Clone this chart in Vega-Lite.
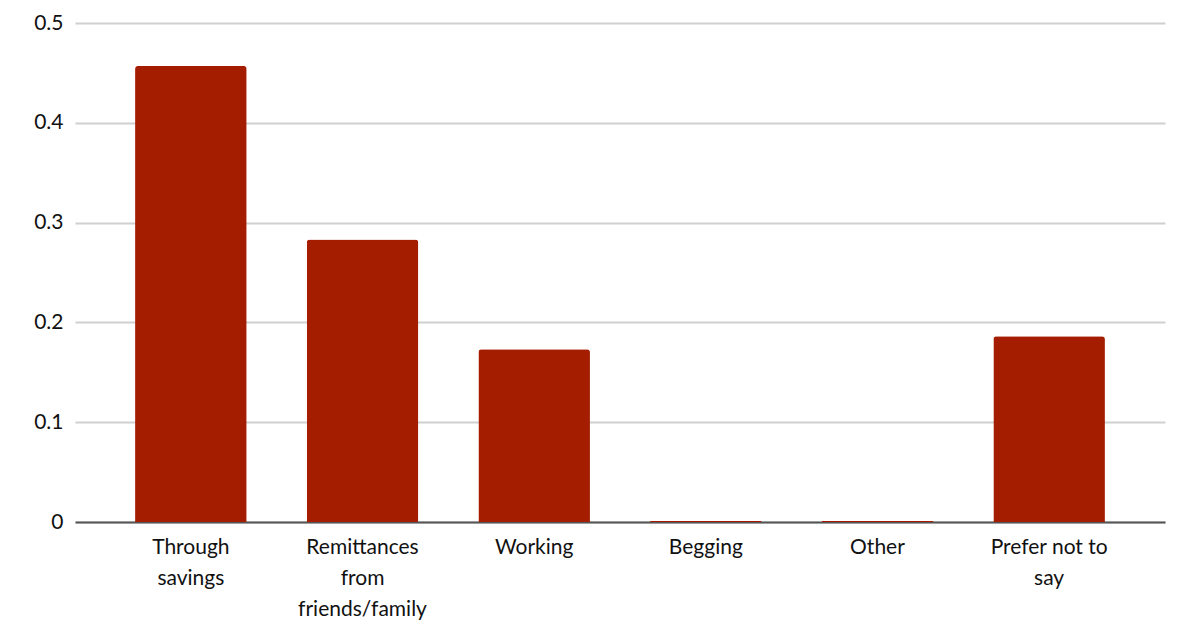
{
  "$schema": "https://vega.github.io/schema/vega-lite/v6.json",
  "width": 1090,
  "height": 499,
  "autosize": {"type": "none"},
  "padding": {"left": 75, "top": 23, "right": 12, "bottom": 104},
  "background": "white",
  "config": {
    "view": {"stroke": null},
    "font": "Lato"
  },
  "data": {
    "values": [
      {"source": "Through\nsavings", "share": 0.457},
      {"source": "Remittances\nfrom\nfriends/family", "share": 0.283},
      {"source": "Working", "share": 0.173},
      {"source": "Begging", "share": 0.001},
      {"source": "Other", "share": 0.001},
      {"source": "Prefer not to\nsay", "share": 0.186}
    ]
  },
  "mark": {"type": "bar", "color": "#A51D00", "cornerRadiusTopLeft": 3, "cornerRadiusTopRight": 3},
  "encoding": {
    "x": {
      "field": "source",
      "type": "nominal",
      "sort": null,
      "scale": {"paddingInner": 0.35, "paddingOuter": 0.35},
      "axis": {
        "title": null,
        "labelAngle": 0,
        "labelExpr": "split(datum.label, '\\n')",
        "labelFontSize": 21,
        "labelLineHeight": 31,
        "labelColor": "#111111",
        "labelPadding": 25,
        "ticks": false,
        "domainColor": "#555555",
        "domainWidth": 2,
        "labelBaseline": "middle"
      }
    },
    "y": {
      "field": "share",
      "type": "quantitative",
      "scale": {"domain": [0, 0.5], "nice": false},
      "axis": {
        "title": null,
        "values": [0, 0.1, 0.2, 0.3, 0.4, 0.5],
        "format": ".1~f",
        "labelFontSize": 21,
        "labelColor": "#111111",
        "labelPadding": 12,
        "ticks": false,
        "domain": false,
        "gridColor": "#d0d0d0",
        "gridWidth": 2
      }
    }
  }
}
